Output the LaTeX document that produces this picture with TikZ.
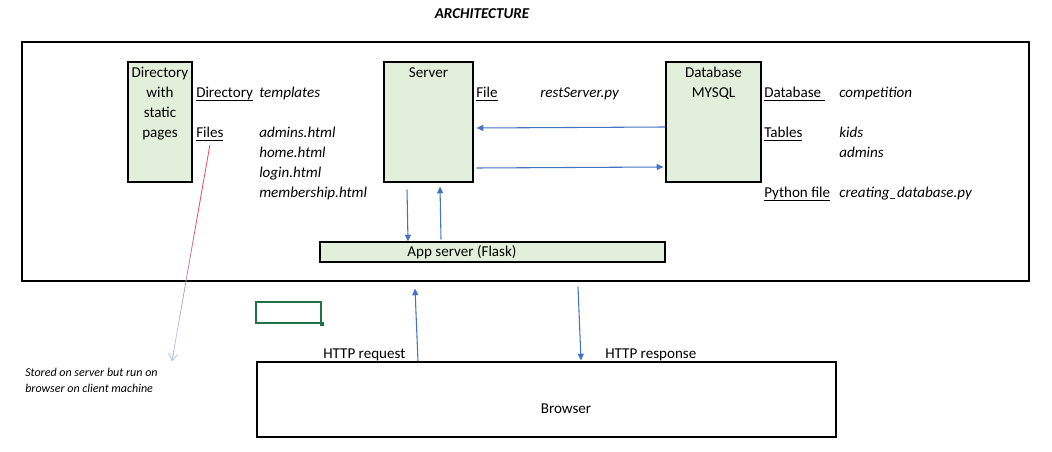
\documentclass[tikz,border=0pt]{standalone}
\usepackage{fontspec}
\setmainfont{Carlito}
\usetikzlibrary{arrows.meta,calc}
\definecolor{boxgreen}{HTML}{E2EFDA}
\definecolor{arrblue}{HTML}{4472C4}
\definecolor{xlgreen}{HTML}{217346}
\definecolor{notered}{HTML}{E8475A}
\definecolor{noteblue}{HTML}{B4C7E7}
\newcommand\ulx[1]{\setbox0\hbox{#1}\rlap{\rule[-2pt]{\wd0}{0.7pt}}\box0}
\begin{document}
\begin{tikzpicture}[x=0.75pt,y=-0.75pt,
  greenbox/.style={draw=black, line width=0.9pt, fill=boxgreen, inner sep=0pt},
  plainbox/.style={draw=black, line width=0.8pt, inner sep=0pt},
  txt/.style={inner sep=0pt, anchor=base west, font=\fontsize{11.3pt}{13pt}\selectfont},
  ctxt/.style={inner sep=0pt, anchor=base, font=\fontsize{11.3pt}{13pt}\selectfont},
  itxt/.style={inner sep=0pt, anchor=base west, font=\fontsize{11.3pt}{13pt}\selectfont\itshape},
  notetxt/.style={inner sep=0pt, anchor=base west, font=\fontsize{9pt}{10pt}\selectfont\itshape},
  flow/.style={draw=arrblue, line width=0.8pt, -{Triangle[width=4.5pt,length=5pt]}},
]
\useasboundingbox (0,0) rectangle (1052,452);
\fill[white] (0,0) rectangle (1052,452);

% title
\node[ctxt, font=\fontsize{11.3pt}{13pt}\selectfont\bfseries\itshape] (title) at (482,19) {ARCHITECTURE};

% frame
\node[plainbox, minimum width=755.25pt, minimum height=179.25pt] (frame) at (525.5,161.5) {};

% boxes
\node[greenbox, minimum width=48pt, minimum height=90pt] (dir) at (160,122) {};
\node[greenbox, minimum width=66.75pt, minimum height=90pt] (server) at (428.5,122) {};
\node[greenbox, minimum width=71.25pt, minimum height=90pt] (db) at (713.5,122) {};
\node[greenbox, minimum width=258.75pt, minimum height=15pt] (app) at (492.5,252) {};
\node[plainbox, minimum width=434.25pt, minimum height=56.25pt] (browser) at (546.5,399.5) {};

% box texts
\node[ctxt] (dir1) at (160,78) {Directory};
\node[ctxt] (dir2) at (160,98) {with};
\node[ctxt] (dir3) at (160,118) {static};
\node[ctxt] (dir4) at (160,138) {pages};
\node[ctxt] (servt) at (428.5,78) {Server};
\node[ctxt] (dbt1) at (713.5,78) {Database};
\node[ctxt] (dbt2) at (713.5,98) {MYSQL};
\node[ctxt] (appt) at (462,257) {App server (Flask)};
\node[ctxt] (brt) at (566,413) {Browser};

% labels
\node[txt] (dirlab) at (196,98) {\ulx{Directory}};
\node[itxt] (templ) at (259,98) {templates};
\node[txt] (files) at (196,138) {\ulx{Files}};
\node[itxt] (f1) at (259,138) {admins.html};
\node[itxt] (f2) at (259,158) {home.html};
\node[itxt] (f3) at (259,178) {login.html};
\node[itxt] (f4) at (259,198) {membership.html};
\node[txt] (filelab) at (476,98) {\ulx{File}};
\node[itxt] (rest) at (540,98) {restServer.py};
\node[txt] (dblab) at (764,98) {\ulx{Database\ }};
\node[itxt] (comp) at (839,98) {competition};
\node[txt] (tablab) at (764,138) {\ulx{Tables}};
\node[itxt] (kids) at (839,138) {kids};
\node[itxt] (adm) at (839,158) {admins};
\node[txt] (pylab) at (764,198) {\ulx{Python file}};
\node[itxt] (pyf) at (839,198) {creating\_database.py};
\node[txt] (req) at (323,358) {HTTP request};
\node[txt] (resp) at (605,358) {HTTP response};
\node[notetxt] (note1) at (25,376.5) {Stored on server but run on};
\node[notetxt] (note2) at (25,392.5) {browser on client machine};

% excel cell marker
\node[draw=xlgreen, line width=1.5pt, minimum width=48.75pt, minimum height=15.75pt, inner sep=0pt] (cell) at (288.5,312.5) {};
\node[fill=xlgreen, minimum size=3.5pt, inner sep=0pt] (handle) at (cell.south east) {};

% arrows
\draw[flow] ($(db.west)+(0,5)$) -- ($(server.east)+(3,6)$);
\draw[flow] ($(server.east)+(3,46)$) -- ($(db.west)+(-2,45)$);
\draw[flow] ($(server.south)+(-21.5,7)$) -- ($(app.north)+(-84.5,0)$);
\draw[flow] ($(app.north)+(-51.5,-2)$) -- ($(server.south)+(11.5,4)$);
\draw[flow] ($(browser.north)+(-128.5,0)$) -- ($(frame.south)+(-110.5,7)$);
\draw[flow] ($(frame.south)+(52.5,5)$) -- ($(browser.north)+(34.5,-1)$);

% gradient note connector
\coordinate (ns) at ($(files.south)+(0,4)$);
\coordinate (nt) at (172,361);
\foreach \i in {0,...,19}{
  \pgfmathsetmacro\ta{\i/20}
  \pgfmathsetmacro\tb{(\i+1)/20}
  \pgfmathsetmacro\pr{max(0,min(100,100*(0.85-\ta)/0.55))}
  \draw[line width=0.6pt, color=notered!\pr!noteblue] ($(ns)!\ta!(nt)$) -- ($(ns)!\tb!(nt)$);
}
\draw[line width=0.6pt, noteblue, -{Straight Barb[length=5pt,width=7pt]}] ($(ns)!0.95!(nt)$) -- (nt);
\end{tikzpicture}
\end{document}
